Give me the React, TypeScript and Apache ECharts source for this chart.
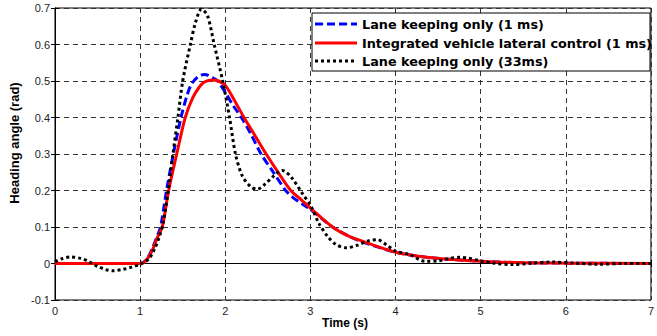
import React, { useEffect, useRef } from "react";
import * as echarts from "echarts";

const seriesNames = [
  "Lane keeping only (1 ms)",
  "Integrated vehicle lateral control (1 ms)",
  "Lane keeping only (33ms)",
];
const seriesColors = ["#0000ff", "#ff0000", "#000000"];
const seriesDash: (number[] | null)[] = [[8, 4], null, [3, 3]];

const xTicks = [0, 1, 2, 3, 4, 5, 6, 7];
const yTicks = [-0.1, 0, 0.1, 0.2, 0.3, 0.4, 0.5, 0.6, 0.7];

const laneKeeping1ms: [number, number][] = [
  [0, 0], [1, 0], [1.05, 0.005], [1.1, 0.02], [1.15, 0.045], [1.2, 0.075],
  [1.24, 0.1], [1.31, 0.2], [1.39, 0.3], [1.48, 0.4], [1.55, 0.46], [1.6, 0.49],
  [1.68, 0.512], [1.76, 0.518], [1.84, 0.51], [1.91, 0.5], [2.0, 0.469],
  [2.1, 0.43], [2.19, 0.4], [2.3, 0.355], [2.42, 0.3], [2.55, 0.255],
  [2.71, 0.2], [2.8, 0.18], [2.9, 0.164], [3.0, 0.148], [3.15, 0.12],
  [3.26, 0.1], [3.45, 0.075], [3.65, 0.056], [4.0, 0.031], [4.3, 0.019],
  [4.6, 0.012], [5.0, 0.006], [5.5, 0.002], [6, 0.001], [7, 0],
];

const integrated1ms: [number, number][] = [
  [0, 0], [1, 0], [1.05, 0.004], [1.1, 0.018], [1.15, 0.04], [1.2, 0.07],
  [1.26, 0.1], [1.335, 0.2], [1.43, 0.3], [1.53, 0.4], [1.62, 0.455],
  [1.7, 0.485], [1.76, 0.498], [1.85, 0.503], [1.92, 0.5], [2.0, 0.488],
  [2.1, 0.45], [2.22, 0.4], [2.35, 0.35], [2.48, 0.3], [2.62, 0.25],
  [2.77, 0.2], [2.9, 0.173], [3.0, 0.152], [3.26, 0.1], [3.45, 0.075],
  [3.65, 0.058], [4.0, 0.031], [4.3, 0.019], [4.59, 0.012], [5.0, 0.006],
  [5.5, 0.002], [6, 0.001], [7, 0],
];

const laneKeeping33ms: [number, number][] = [
  [0, 0.005], [0.08, 0.013], [0.18, 0.018], [0.3, 0.014], [0.4, 0.005],
  [0.5, -0.008], [0.6, -0.017], [0.68, -0.02], [0.8, -0.016], [0.9, -0.01],
  [1.0, -0.002], [1.1, 0.012], [1.17, 0.04], [1.22, 0.07], [1.27, 0.11],
  [1.33, 0.2], [1.385, 0.3], [1.444, 0.4], [1.5, 0.5], [1.59, 0.6],
  [1.65, 0.66], [1.72, 0.697], [1.79, 0.68], [1.87, 0.6], [1.97, 0.5],
  [2.05, 0.4], [2.12, 0.3], [2.2, 0.24], [2.3, 0.21], [2.38, 0.204],
  [2.47, 0.218], [2.57, 0.24], [2.67, 0.255], [2.78, 0.235], [2.91, 0.19],
  [3.0, 0.16], [3.1, 0.11], [3.2, 0.075], [3.3, 0.052], [3.42, 0.043],
  [3.55, 0.05], [3.68, 0.062], [3.79, 0.065], [3.9, 0.05], [4.0, 0.034],
  [4.16, 0.025], [4.35, 0.006], [4.5, 0.007], [4.6, 0.012], [4.75, 0.017],
  [4.85, 0.015], [5.0, 0.007], [5.15, 0.001], [5.37, -0.003], [5.6, 0.001],
  [5.83, 0.004], [6.1, 0.001], [6.38, -0.002], [6.7, 0], [7, 0],
];

const seriesData = [laneKeeping1ms, integrated1ms, laneKeeping33ms];

const FONT = 'Arial, "Liberation Sans", sans-serif';
const LEGEND_FONT = '"DejaVu Sans", Verdana, sans-serif';

export default function App() {
  const ref = useRef<HTMLDivElement>(null);
  useEffect(() => {
    document.body.style.margin = "0";
    const chart = echarts.init(ref.current!, null, { renderer: "svg" });
    const gridLine = { show: true, lineStyle: { color: "#333", width: 1, type: [5, 4] as any } };
    const axisBase = {
      type: "value" as const,
      axisLine: { show: true, lineStyle: { color: "#000", width: 1 } },
      axisTick: { show: true, inside: true, length: 4, lineStyle: { color: "#000" } },
    };

    const legendX = 312;
    const legendY = 13;
    const rowY = [24, 43, 61];
    const legendGraphics: any[] = [
      {
        type: "rect",
        shape: { x: legendX, y: legendY, width: 338, height: 58 },
        style: { fill: "#fff", stroke: "#000", lineWidth: 1 },
        z: 100,
      },
    ];
    seriesNames.forEach((name, i) => {
      legendGraphics.push({
        type: "line",
        shape: { x1: 315, y1: rowY[i], x2: 357, y2: rowY[i] },
        style: {
          stroke: seriesColors[i],
          lineWidth: 3,
          lineDash: seriesDash[i] || undefined,
        },
        z: 101,
      });
      legendGraphics.push({
        type: "text",
        x: 362,
        y: rowY[i],
        style: {
          text: name,
          font: `bold 12.8px ${LEGEND_FONT}`,
          fill: "#000",
          align: "left",
          verticalAlign: "middle",
        },
        z: 101,
      });
    });

    chart.setOption({
      animation: false,
      backgroundColor: "#fff",
      grid: { left: 55, right: 4, top: 8, bottom: 36, show: true, borderColor: "#000", borderWidth: 1 },
      xAxis: [
        {
          ...axisBase,
          min: xTicks[0],
          max: xTicks[xTicks.length - 1],
          interval: 1,
          position: "bottom",
          axisLabel: { margin: 5, fontFamily: FONT, fontSize: 11, color: "#222" },
          splitLine: gridLine,
        },
        {
          ...axisBase,
          min: xTicks[0],
          max: xTicks[xTicks.length - 1],
          interval: 1,
          position: "top",
          axisLabel: { show: false },
          splitLine: { show: false },
        },
      ],
      yAxis: [
        {
          ...axisBase,
          min: yTicks[0],
          max: yTicks[yTicks.length - 1],
          interval: 0.1,
          position: "left",
          axisLabel: {
            margin: 5,
            fontFamily: FONT,
            fontSize: 11,
            color: "#222",
            formatter: (v: number) => String(parseFloat(v.toFixed(1))),
          },
          splitLine: gridLine,
        },
        {
          ...axisBase,
          min: yTicks[0],
          max: yTicks[yTicks.length - 1],
          interval: 0.1,
          position: "right",
          axisLabel: { show: false },
          splitLine: { show: false },
        },
      ],
      graphic: [
        {
          type: "text",
          x: 345,
          y: 323,
          style: {
            text: "Time (s)",
            font: `bold 12px ${FONT}`,
            fill: "#000",
            align: "center",
            verticalAlign: "middle",
          },
        },
        {
          type: "text",
          x: 14,
          y: 143,
          rotation: Math.PI / 2,
          style: {
            text: "Heading angle (rad)",
            font: `bold 13px ${FONT}`,
            fill: "#000",
            align: "center",
            verticalAlign: "middle",
          },
        },
        ...legendGraphics,
      ],
      series: seriesNames.map((name, i) => ({
        name,
        type: "line",
        data: seriesData[i],
        showSymbol: false,
        symbol: "none",
        smooth: 0.3,
        lineStyle: {
          color: seriesColors[i],
          width: 3,
          type: seriesDash[i] || "solid",
        },
      })),
    });
    return () => chart.dispose();
  }, []);
  return <div ref={ref} style={{ width: 657, height: 336 }} />;
}
